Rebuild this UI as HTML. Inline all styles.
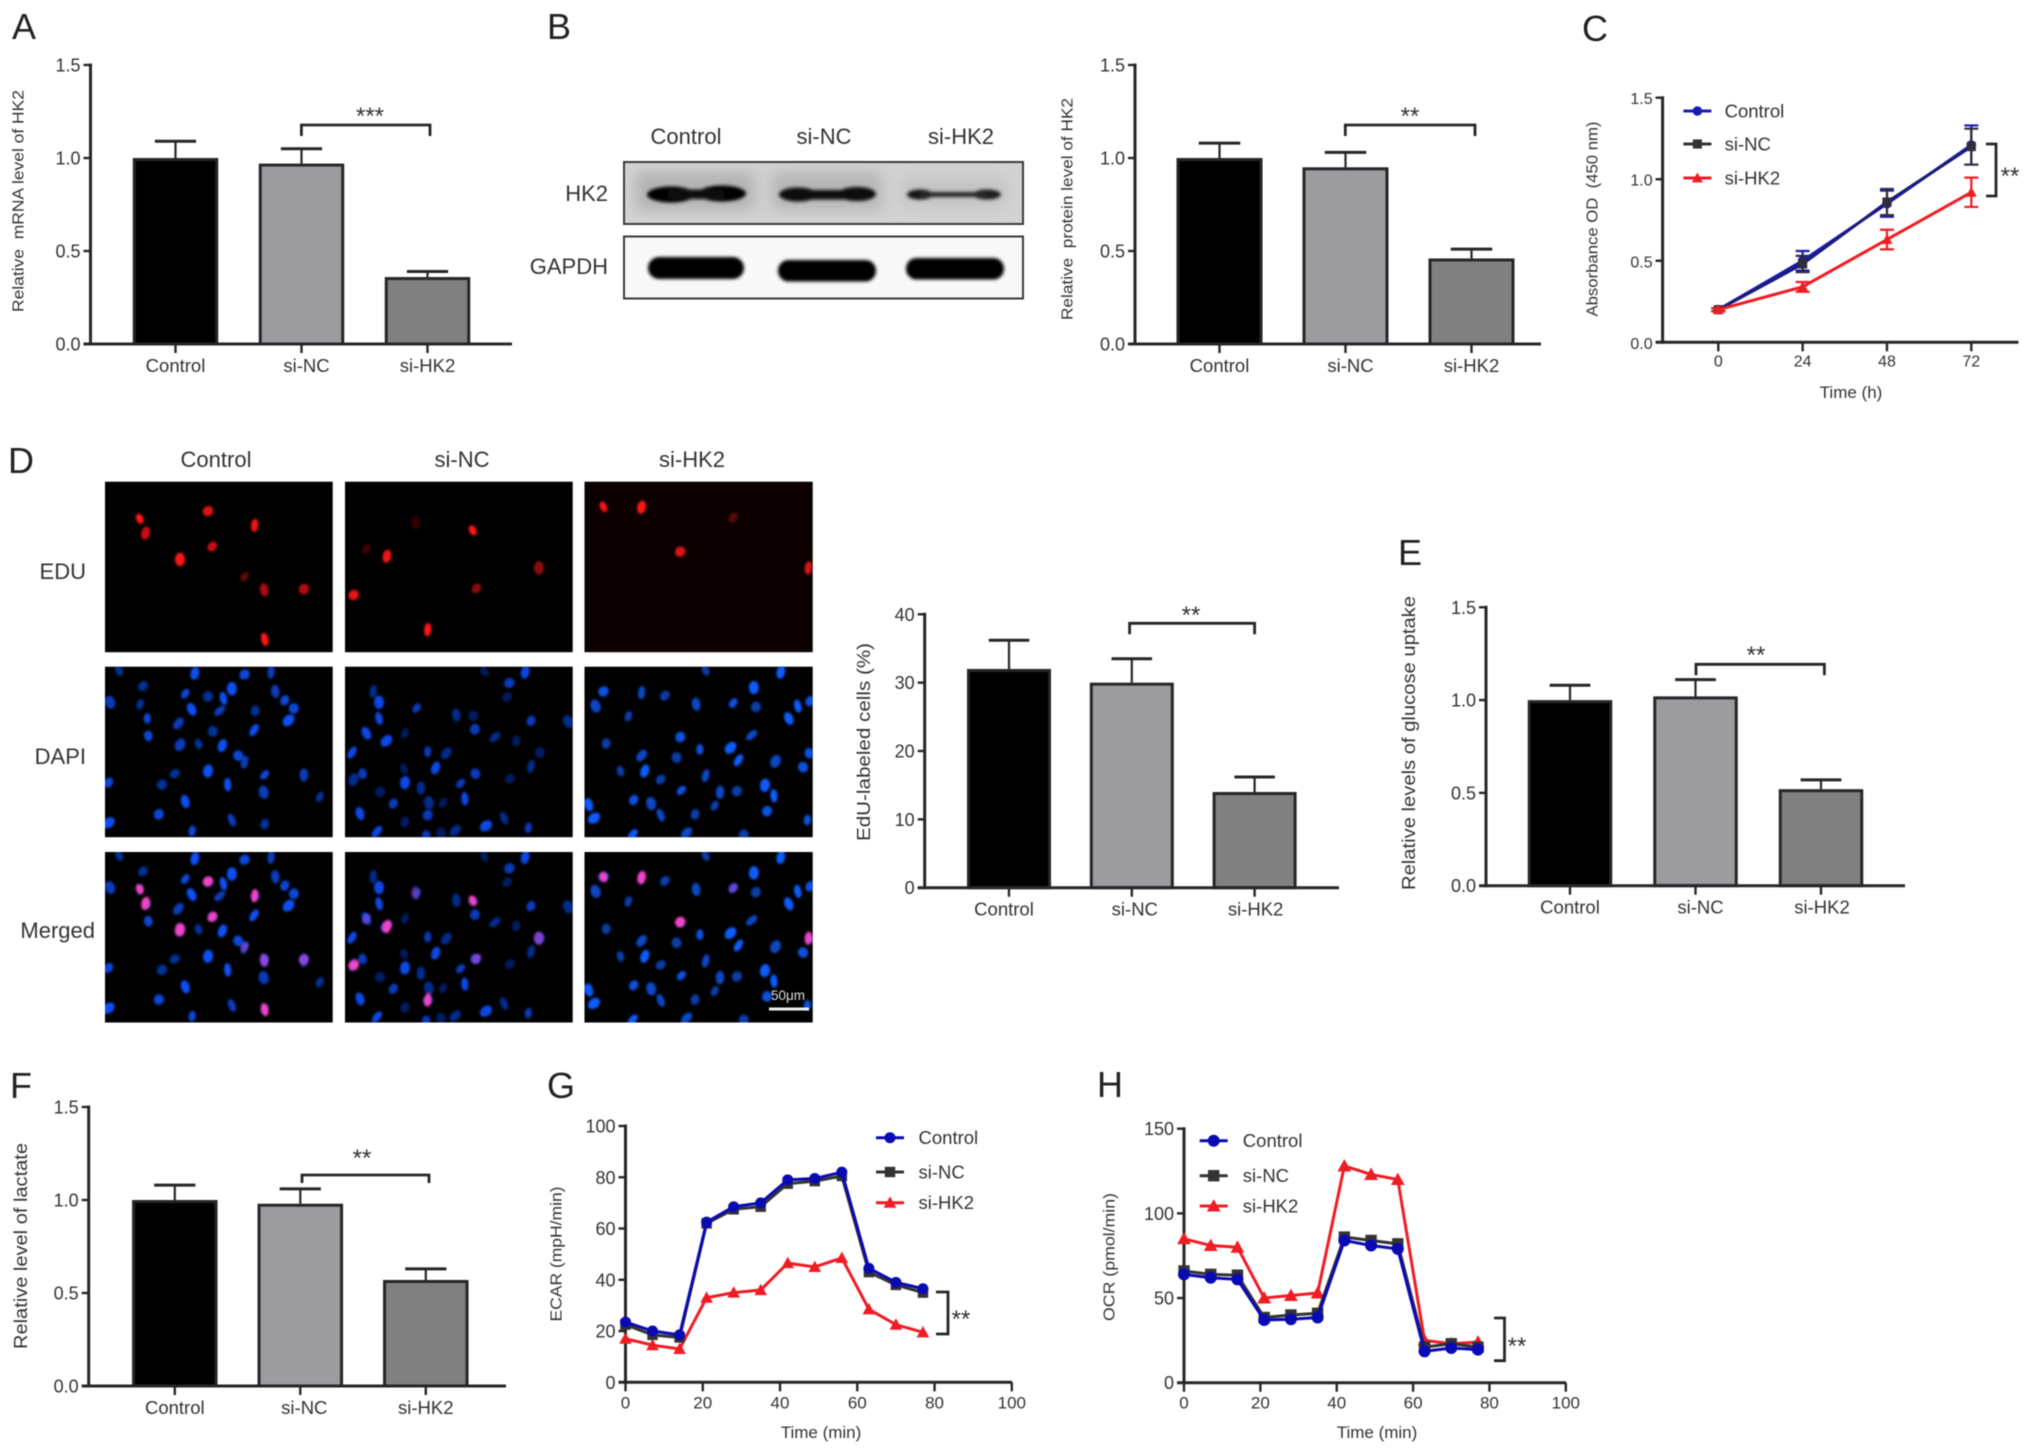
<!DOCTYPE html>
<html lang="en">
<head>
<meta charset="utf-8">
<title>HK2 knockdown figure</title>
<style>
html,body{margin:0;padding:0;background:#fff}
#figure{display:block;filter:blur(.65px)}
text{font-family:"Liberation Sans",Arial,sans-serif;fill:#333;white-space:pre}
.letter{font-size:36px;fill:#222}
.head{font-size:22px;text-anchor:middle;fill:#333}
.side{font-size:22px;text-anchor:end;fill:#333}
</style>
</head>
<body>
<svg id="figure" xmlns="http://www.w3.org/2000/svg" width="2031" height="1455" viewBox="0 0 2031 1455">
<defs>
<filter id="soft" x="-30%" y="-60%" width="160%" height="220%"><feGaussianBlur stdDeviation="1.7"/></filter>
<filter id="softer" x="-10%" y="-20%" width="120%" height="140%"><feGaussianBlur stdDeviation="7"/></filter>
<filter id="cell" x="-40%" y="-40%" width="180%" height="180%"><feGaussianBlur stdDeviation="1.1"/></filter>
<clipPath id="clip-hk2"><rect x="624" y="162" width="399" height="62"/></clipPath>
</defs>
<rect width="2031" height="1455" fill="#fff"/>
<text class="letter" x="12" y="39">A</text>
<text class="letter" x="547" y="39">B</text>
<text class="letter" x="1582" y="41">C</text>
<text class="letter" x="8" y="473">D</text>
<text class="letter" x="1398" y="565">E</text>
<text class="letter" x="10" y="1098">F</text>
<text class="letter" x="547" y="1098">G</text>
<text class="letter" x="1097" y="1097">H</text>

<g>
<text class="head" x="686" y="144">Control</text>
<text class="head" x="824" y="144">si-NC</text>
<text class="head" x="961" y="144">si-HK2</text>
<text class="side" x="608" y="201">HK2</text>
<text class="side" x="608" y="274">GAPDH</text>
<rect x="624" y="162" width="399" height="62" fill="#d2d2d2"/>
<g clip-path="url(#clip-hk2)">
<g filter="url(#softer)">
<rect x="636" y="172" width="118" height="38" fill="#b2b2b2"/><rect x="772" y="172" width="110" height="38" fill="#b6b6b6"/><rect x="902" y="178" width="104" height="28" fill="#c2c2c2"/>
</g>
</g>
<g filter="url(#soft)">
<ellipse cx="671" cy="194.5" rx="24" ry="8" fill="#050505"/>
<ellipse cx="722" cy="193.5" rx="24" ry="8" fill="#050505"/>
<rect x="668" y="189.5" width="56" height="9.5" fill="#111"/>
<ellipse cx="798" cy="194.5" rx="19" ry="7" fill="#080808"/>
<ellipse cx="857" cy="194" rx="19" ry="7" fill="#080808"/>
<rect x="795" y="190" width="64" height="9.5" fill="#0c0c0c"/>
<ellipse cx="920" cy="194.5" rx="13" ry="5" fill="#141414"/>
<ellipse cx="987" cy="194.5" rx="14" ry="5" fill="#1e1e1e"/>
<rect x="920" y="192" width="68" height="5" fill="#262626"/>
</g>
<rect x="624" y="162" width="399" height="62" fill="none" stroke="#3a3a3a" stroke-width="2"/>
<rect x="624" y="236.5" width="399" height="62" fill="#f8f8f8" stroke="#3a3a3a" stroke-width="2"/>
<g filter="url(#soft)">
<rect x="648" y="257" width="96" height="22" rx="11" fill="#000"/>
<rect x="778" y="260" width="98" height="21.5" rx="10.5" fill="#000"/>
<rect x="906" y="258" width="98" height="21.5" rx="10.5" fill="#000"/>
</g>
</g>

<g id="micrographs">
<text class="head" x="216" y="467">Control</text>
<text class="head" x="462" y="467">si-NC</text>
<text class="head" x="692" y="467">si-HK2</text>
<text class="side" x="86" y="579">EDU</text>
<text class="side" x="86" y="764">DAPI</text>
<text class="side" x="95" y="938">Merged</text>
</g>
<g id="charts"></g>
</svg>

<script>
// ---------- chart data ----------
const barCategories = ['Control', 'si-NC', 'si-HK2'];
const ratioTicks = [0, 0.5, 1, 1.5];
const ratioTickLabels = ['0.0', '0.5', '1.0', '1.5'];
const eduTicks = [0, 10, 20, 30, 40];
const eduTickLabels = ['0', '10', '20', '30', '40'];

const mrnaValues = [1.0, 0.97, 0.36];
const mrnaErrors = [0.09, 0.08, 0.03];
const proteinValues = [1.0, 0.95, 0.46];
const proteinErrors = [0.08, 0.08, 0.05];
const eduValues = [32, 30, 14];
const eduErrors = [4.2, 3.5, 2.2];
const glucoseValues = [1.0, 1.02, 0.52];
const glucoseErrors = [0.08, 0.09, 0.05];
const lactateValues = [1.0, 0.98, 0.57];
const lactateErrors = [0.08, 0.08, 0.06];

const cckTimes = [0, 24, 48, 72];
const cckTicks = [0, 0.5, 1, 1.5];
const cckTickLabels = ['0.0', '0.5', '1.0', '1.5'];
const cckControl = [0.2, 0.5, 0.85, 1.21];
const cckControlErr = [0.01, 0.06, 0.08, 0.12];
const cckNC = [0.2, 0.48, 0.86, 1.2];
const cckNCErr = [0.01, 0.05, 0.08, 0.11];
const cckHK2 = [0.2, 0.34, 0.63, 0.92];
const cckHK2Err = [0.01, 0.03, 0.06, 0.09];

const seahorseTimes = [0, 7, 14, 21, 28, 35, 42, 49, 56, 63, 70, 77];
const minuteTicks = [0, 20, 40, 60, 80, 100];
const ecarTicks = [0, 20, 40, 60, 80, 100];
const ecarControl = [23.5, 20, 18.5, 62.5, 68.5, 70, 79, 79.5, 82, 44.5, 39, 36.5];
const ecarNC = [22.5, 18.5, 17.5, 62, 67.5, 68.5, 77.5, 78.5, 80.5, 43, 38, 35];
const ecarHK2 = [17, 14.5, 13, 33, 35, 36, 46.5, 45, 48.5, 28.5, 22.5, 19.5];
const ocrTicks = [0, 50, 100, 150];
const ocrControl = [64, 62, 61, 37, 37.5, 38.5, 84, 81, 79, 18.5, 20.5, 19.5];
const ocrNC = [66, 64, 63.5, 38.5, 40, 41, 86, 84, 82, 21, 23, 21];
const ocrHK2 = [85, 81, 80, 50, 51.5, 53, 128, 123, 120, 25, 23, 24];

// ---------- micrograph texture (not chart data) ----------
const nucleiControl = [[225,618],[368,625],[462,628],[512,622],[270,658],[438,665],[350,678],[520,672],[393,685],[422,690],[538,695],[208,700],[265,705],[362,718],[555,716],[415,722],[482,722],[545,747],[278,742],[337,755],[402,775],[480,772],[280,787],[340,810],[375,808],[420,812],[450,838],[462,855],[330,885],[393,878],[500,888],[574,888],[306,913],[430,913],[205,908],[498,933],[604,945],[350,957],[300,990],[438,1005],[500,1015],[205,1012],[363,1033]];
const nucleiNC = [[915,620],[992,622],[962,650],[705,672],[958,686],[716,700],[787,715],[862,733],[894,735],[716,742],[1003,748],[1073,750],[765,780],[692,780],[897,770],[935,790],[975,800],[730,800],[808,828],[843,832],[1020,830],[665,830],[685,885],[668,900],[763,872],[823,870],[898,885],[1003,866],[963,898],[765,908],[870,910],[795,922],[718,932],[878,950],[743,962],[810,960],[837,960],[680,988],[808,992],[952,1000],[765,1010],[918,1020],[998,1025],[860,1032],[833,1038],[712,1035],[805,1045]];
const nucleiHK2 = [[1333,618],[1475,622],[1140,672],[1212,675],[1256,683],[1424,662],[1385,702],[1315,705],[1428,712],[1507,710],[1530,697],[1125,710],[1187,736],[1490,742],[1285,790],[1420,785],[1145,807],[1380,818],[1322,822],[1212,838],[1278,843],[1395,850],[1528,832],[1465,853],[1172,878],[1218,878],[1517,868],[1333,890],[1248,900],[1445,915],[1287,928],[1360,933],[1392,930],[1462,942],[1197,953],[1230,962],[1350,968],[1112,965],[1449,982],[1248,992],[1313,990],[1122,1000],[1525,1005],[1297,1038],[1405,1043],[1195,1043]];
const redControl = [[264,228,1],[275,265,.8],[393,208,.85],[481,245,.95],[401,300,.8],[340,333,1],[462,378,.35],[499,412,.65],[574,410,.7],[500,540,1]];
const redNC = [[893,258,1],[731,325,.95],[668,425,.9],[808,515,1],[900,408,.55],[1018,355,.55],[692,305,.25],[785,238,.2]];
const redHK2 = [[1140,197,.95],[1212,198,1],[1285,313,.85],[1527,355,.85],[1385,225,.3]];

const NS = 'http://www.w3.org/2000/svg';
const charts = document.getElementById('charts');
const micro = document.getElementById('micrographs');
const INK = '#262626';

function add(parent, tag, attrs, txt) {
  const e = document.createElementNS(NS, tag);
  for (const k in attrs) e.setAttribute(k, attrs[k]);
  if (txt !== undefined) e.textContent = txt;
  parent.appendChild(e);
  return e;
}

function drawYAxis(g, c, yOf, ticks, labels) {
  const axis = add(g, 'line', {x1: c.x0, x2: c.x0, y1: c.yTop - 1.5, y2: c.yBot + 1.5, stroke: INK, 'stroke-width': 3});
  
  
  ticks.forEach((t, i) => {
    const tick = add(g, 'line', {x1: c.x0 - 7, x2: c.x0, y1: yOf(t), y2: yOf(t), stroke: INK, 'stroke-width': 2.4});
    
    
    const lab = add(g, 'text', {x: c.x0 - 10, y: yOf(t) + 6.5, 'text-anchor': 'end', 'font-size': c.tickFont || 18}, labels[i]);
    
    
  });
  const title = add(g, 'text', {x: c.titleX, y: c.titleY, transform: 'rotate(-90 ' + c.titleX + ' ' + c.titleY + ')', 'text-anchor': 'middle', 'dominant-baseline': 'central', 'font-size': c.titleFont || 16.5, textLength: c.titleLen, lengthAdjust: 'spacingAndGlyphs', fill: '#444'}, c.title);
  
  
}

function drawBracket(g, b) {
  const d = b.up === undefined
    ? 'M' + b.x1 + ' ' + (b.y + b.drop) + 'V' + b.y + 'H' + b.x2 + 'V' + (b.y + b.drop)
    : 'M' + b.x1 + ' ' + b.up + 'H' + b.x2 + 'V' + b.y + 'H' + b.x1;
  const p = add(g, 'path', {d: d, fill: 'none', stroke: INK, 'stroke-width': 2.8});
  
  
  const s = add(g, 'text', {x: b.lx, y: b.ly + 14, 'text-anchor': 'middle', 'font-size': 24, fill: '#222'}, b.text);
  
  
}

function barChart(c) {
  const g = add(charts, 'g', {});
  
  
  const yOf = v => c.yBot - v / c.yMax * (c.yBot - c.yTop);
  const xOf = i => c.first + i * c.step;
  const fills = ['#000000', '#9b9ba0', '#808080'];
  c.values.forEach((v, i) => {
    const cx = xOf(i);
    const top = yOf(v + c.errors[i]);
    const stem = add(g, 'line', {x1: cx, x2: cx, y1: top, y2: yOf(v), stroke: INK, 'stroke-width': 2.2});
    
    
    const cap = add(g, 'line', {x1: cx - c.barW / 4, x2: cx + c.barW / 4, y1: top, y2: top, stroke: INK, 'stroke-width': 3});
    
    
    const bar = add(g, 'rect', {x: cx - c.barW / 2, y: yOf(v) + 1.5, width: c.barW, height: c.yBot - yOf(v) - 1.5, fill: fills[i], stroke: INK, 'stroke-width': 3});
    
    
    const tick = add(g, 'line', {x1: cx, x2: cx, y1: c.yBot, y2: c.yBot + 9, stroke: INK, 'stroke-width': 2.4});
    
    
    const lab = add(g, 'text', {x: cx + c.labelShift[i], y: c.yBot + 28, 'text-anchor': 'middle', 'font-size': 18.5}, barCategories[i]);
    
    
  });
  const xa = add(g, 'line', {x1: c.x0 - 7, x2: c.xEnd, y1: c.yBot, y2: c.yBot, stroke: INK, 'stroke-width': 3});
  
  
  drawYAxis(g, c, yOf, c.ticks, c.tickLabels);
  drawBracket(g, c.bracket);
}

function marker(g, kind, x, y, r, color) {
  let m;
  if (kind === 'circle') {
    m = add(g, 'circle', {cx: x, cy: y, r: r, fill: color});
  } else if (kind === 'square') {
    m = add(g, 'rect', {x: x - r * .95, y: y - r * .95, width: r * 1.9, height: r * 1.9, fill: color});
  } else {
    const h = r * 1.15;
    m = add(g, 'path', {d: 'M' + x + ' ' + (y - h) + 'L' + (x + h) + ' ' + (y + h * .8) + 'L' + (x - h) + ' ' + (y + h * .8) + 'Z', fill: color});
  }
  
  
}

function lineChart(c) {
  const g = add(charts, 'g', {});
  
  
  const yOf = v => c.yBot - v / c.yMax * (c.yBot - c.yTop);
  const xOf = t => c.xOrigin + t * c.xUnit;
  c.xTicks.forEach(t => {
    const tick = add(g, 'line', {x1: xOf(t), x2: xOf(t), y1: c.yBot, y2: c.yBot + 9, stroke: INK, 'stroke-width': 2.4});
    
    
    const lab = add(g, 'text', {x: xOf(t), y: c.yBot + (c.tickDy || 26), 'text-anchor': 'middle', 'font-size': c.tickFont || 17}, String(t));
    
    
  });
  const xa = add(g, 'line', {x1: c.x0 - 7, x2: c.xEnd, y1: c.yBot, y2: c.yBot, stroke: INK, 'stroke-width': 3});
  
  
  const xt = add(g, 'text', {x: c.xTitleX, y: c.xTitleY + 5, 'text-anchor': 'middle', 'font-size': 17}, c.xTitle);
  
  
  drawYAxis(g, c, yOf, c.ticks, c.tickLabels);

  c.series.forEach(s => {
    const sg = add(g, 'g', {});
    
    
    const pts = s.values.map((v, i) => xOf(c.times[i]) + ',' + yOf(v)).join(' ');
    const line = add(sg, 'polyline', {points: pts, fill: 'none', stroke: s.lineColor || s.color, 'stroke-width': c.lineW});
    
    
    s.values.forEach((v, i) => {
      const x = xOf(c.times[i]);
      if (s.errors) {
        const lo = yOf(v - s.errors[i]);
        const hi = yOf(v + s.errors[i]);
        const eb = add(sg, 'path', {d: 'M' + (x - 7) + ' ' + hi + 'H' + (x + 7) + 'M' + x + ' ' + hi + 'V' + lo + 'M' + (x - 7) + ' ' + lo + 'H' + (x + 7), fill: 'none', stroke: s.color, 'stroke-width': 2.2});
        
        
      }
      marker(sg, s.kind, x, yOf(v), c.markerR, s.color);
    });
  });

  c.legend.forEach(item => {
    const lg = add(g, 'g', {});
    
    
    const ln = add(lg, 'line', {x1: c.legendX - 14, x2: c.legendX + 14, y1: item.y, y2: item.y, stroke: item.color, 'stroke-width': 3});
    
    
    marker(lg, item.kind, c.legendX, item.y, c.markerR, item.color);
    const t = add(lg, 'text', {x: c.legendTextX, y: item.y + 6.5, 'font-size': 18.5}, item.label);
    
    
  });
  drawBracket(g, c.bracket);
}

barChart({name: 'chart-a-hk2-mrna', x0: 90.5, xEnd: 512, yTop: 65, yBot: 344, yMax: 1.5, first: 175.5, step: 126, barW: 82.5,
  values: mrnaValues, errors: mrnaErrors, ticks: ratioTicks, tickLabels: ratioTickLabels, labelShift: [0, 5, 0],
  title: 'Relative  mRNA level of HK2', titleX: 19, titleY: 201, titleLen: 222, titleFont: 16,
  bracket: {x1: 301.4, x2: 430, y: 125, drop: 11, lx: 370, ly: 110, text: '***'}});

barChart({name: 'chart-b-hk2-protein', x0: 1135, xEnd: 1541, yTop: 65, yBot: 344, yMax: 1.5, first: 1219.5, step: 126, barW: 83,
  values: proteinValues, errors: proteinErrors, ticks: ratioTicks, tickLabels: ratioTickLabels, labelShift: [0, 5, 0],
  title: 'Relative  protein level of HK2', titleX: 1068, titleY: 209, titleLen: 222, titleFont: 16,
  bracket: {x1: 1345.3, x2: 1475, y: 125, drop: 11, lx: 1410, ly: 110, text: '**'}});

barChart({name: 'chart-d-edu-labeled', x0: 924.7, xEnd: 1339, yTop: 614.3, yBot: 887.7, yMax: 40, first: 1009, step: 122.8, barW: 81,
  values: eduValues, errors: eduErrors, ticks: eduTicks, tickLabels: eduTickLabels, labelShift: [-5, 3, 1],
  title: 'EdU-labeled cells (%)', titleX: 864, titleY: 742, titleLen: 198, titleFont: 18,
  bracket: {x1: 1129.6, x2: 1254.6, y: 623.3, drop: 11, lx: 1191, ly: 609, text: '**'}});

barChart({name: 'chart-e-glucose-uptake', x0: 1486, xEnd: 1905, yTop: 607.3, yBot: 885.7, yMax: 1.5, first: 1570, step: 125.5, barW: 81.5,
  values: glucoseValues, errors: glucoseErrors, ticks: ratioTicks, tickLabels: ratioTickLabels, labelShift: [0, 5, 1],
  title: 'Relative levels of glucose uptake', titleX: 1409, titleY: 743, titleLen: 294, titleFont: 18,
  bracket: {x1: 1696, x2: 1824.4, y: 664.3, drop: 11, lx: 1756, ly: 649, text: '**'}});

barChart({name: 'chart-f-lactate', x0: 88.7, xEnd: 506, yTop: 1107, yBot: 1386, yMax: 1.5, first: 174.8, step: 125.5, barW: 82.5,
  values: lactateValues, errors: lactateErrors, ticks: ratioTicks, tickLabels: ratioTickLabels, labelShift: [0, 4, 0],
  title: 'Relative level of lactate', titleX: 21, titleY: 1246, titleLen: 206, titleFont: 18,
  bracket: {x1: 302, x2: 429, y: 1175, drop: 8, lx: 362, ly: 1152, text: '**'}});

lineChart({name: 'chart-c-absorbance', x0: 1662.6, xEnd: 2018.5, xOrigin: 1718.3, xUnit: 3.514, yTop: 97.7, yBot: 342.3, yMax: 1.5,
  times: cckTimes, xTicks: cckTimes, ticks: cckTicks, tickLabels: cckTickLabels, lineW: 3, markerR: 4.8, tickFont: 16, tickDy: 24,
  title: 'Absorbance OD  (450 nm)', titleX: 1593, titleY: 219, titleLen: 195, titleFont: 16,
  xTitle: 'Time (h)', xTitleX: 1851, xTitleY: 393,
  series: [
    {label: 'Control', values: cckControl, errors: cckControlErr, color: '#1a1ab4', kind: 'circle'},
    {label: 'si-NC', values: cckNC, errors: cckNCErr, color: '#2f2f3c', lineColor: '#1c1c78', kind: 'square'},
    {label: 'si-HK2', values: cckHK2, errors: cckHK2Err, color: '#f01c24', kind: 'triangle'}
  ],
  legendX: 1697.4, legendTextX: 1724.6,
  legend: [
    {label: 'Control', y: 111, color: '#1a1ab4', kind: 'circle'},
    {label: 'si-NC', y: 144, color: '#333', kind: 'square'},
    {label: 'si-HK2', y: 178, color: '#f01c24', kind: 'triangle'}
  ],
  bracket: {x1: 1986, x2: 1996, y: 196, up: 144, lx: 2010, ly: 170, text: '**'}});

lineChart({name: 'chart-g-ecar', x0: 625.5, xEnd: 1012, xOrigin: 625.5, xUnit: 3.863, yTop: 1126, yBot: 1382.3, yMax: 100,
  times: seahorseTimes, xTicks: minuteTicks, ticks: ecarTicks, tickLabels: ecarTicks.map(String), lineW: 3, markerR: 5.5,
  title: 'ECAR (mpH/min)', titleX: 557, titleY: 1254, titleLen: 135, titleFont: 16,
  xTitle: 'Time (min)', xTitleX: 821, xTitleY: 1433,
  series: [
    {label: 'si-HK2', values: ecarHK2, color: '#f01c24', kind: 'triangle'},
    {label: 'si-NC', values: ecarNC, color: '#333', kind: 'square'},
    {label: 'Control', values: ecarControl, color: '#0a0ab4', kind: 'circle'}
  ],
  legendX: 890, legendTextX: 918.5,
  legend: [
    {label: 'Control', y: 1137.7, color: '#0a0ab4', kind: 'circle'},
    {label: 'si-NC', y: 1172, color: '#333', kind: 'square'},
    {label: 'si-HK2', y: 1202.7, color: '#f01c24', kind: 'triangle'}
  ],
  bracket: {x1: 936, x2: 948, y: 1334, up: 1292, lx: 961, ly: 1313, text: '**'}});

lineChart({name: 'chart-h-ocr', x0: 1184, xEnd: 1566, xOrigin: 1184, xUnit: 3.818, yTop: 1128.7, yBot: 1382.7, yMax: 150,
  times: seahorseTimes, xTicks: minuteTicks, ticks: ocrTicks, tickLabels: ocrTicks.map(String), lineW: 3, markerR: 6,
  title: 'OCR (pmol/min)', titleX: 1110, titleY: 1257, titleLen: 128, titleFont: 16,
  xTitle: 'Time (min)', xTitleX: 1377, xTitleY: 1433,
  series: [
    {label: 'si-HK2', values: ocrHK2, color: '#f01c24', kind: 'triangle'},
    {label: 'si-NC', values: ocrNC, color: '#333', kind: 'square'},
    {label: 'Control', values: ocrControl, color: '#0a0ab4', kind: 'circle'}
  ],
  legendX: 1213.7, legendTextX: 1242.8,
  legend: [
    {label: 'Control', y: 1140.7, color: '#0a0ab4', kind: 'circle'},
    {label: 'si-NC', y: 1175.7, color: '#333', kind: 'square'},
    {label: 'si-HK2', y: 1206, color: '#f01c24', kind: 'triangle'}
  ],
  bracket: {x1: 1494, x2: 1504.5, y: 1360.7, up: 1318, lx: 1517, ly: 1340, text: '**'}});

// ---------- micrographs ----------
const SX = 1.889;
const SCALE_Y = 0.3864;
const ROW_H = 170.5;
const EDU_TOP = 481.7, DAPI_TOP = 666.7, MERGED_TOP = 852;
const SRC_EDU_TOP = 132, SRC_DAPI_TOP = 608;
function nucleus(g, zx, py, i, fill, op, name) {
  const rx = 3.6 + (i % 3) * .7;
  const ry = 5.4 + (i % 2) * 1.3;
  const px = zx / SX;
  const n = add(g, 'ellipse', {cx: px, cy: py, rx: rx, ry: ry, fill: fill, opacity: op, transform: 'rotate(' + ((i * 37) % 80 - 25) + ' ' + px + ' ' + py + ')'});
  
  
}
const columns = [
  {key: 'control', x: 105, w: 227.7, blue: nucleiControl, red: redControl, fill: '#0a50f4', haze: '#000', dim: .62},
  {key: 'si-nc', x: 345, w: 227.7, blue: nucleiNC, red: redNC, fill: '#0a46e4', haze: '#000', dim: .42},
  {key: 'si-hk2', x: 584.5, w: 228.2, blue: nucleiHK2, red: redHK2, fill: '#0a5cfc', haze: '#0c0001', dim: .66}
];
columns.forEach((col, ci) => {
  const defs = document.querySelector('defs');
  const clip1 = add(defs, 'clipPath', {id: 'c-e-' + ci});
  add(clip1, 'rect', {x: col.x, y: EDU_TOP, width: col.w, height: ROW_H});
  const clip2 = add(defs, 'clipPath', {id: 'c-d-' + ci});
  add(clip2, 'rect', {x: col.x, y: DAPI_TOP, width: col.w, height: ROW_H});
  const clip3 = add(defs, 'clipPath', {id: 'c-m-' + ci});
  add(clip3, 'rect', {x: col.x, y: MERGED_TOP, width: col.w, height: ROW_H});

  const eBg = add(micro, 'rect', {x: col.x, y: EDU_TOP, width: col.w, height: ROW_H, fill: col.haze});
  
  
  const dBg = add(micro, 'rect', {x: col.x, y: DAPI_TOP, width: col.w, height: ROW_H, fill: '#000'});
  
  
  const mBg = add(micro, 'rect', {x: col.x, y: MERGED_TOP, width: col.w, height: ROW_H, fill: '#000'});
  
  

  const egc = add(micro, 'g', {'clip-path': 'url(#c-e-' + ci + ')'});
  
  
  const eg = add(egc, 'g', {filter: 'url(#cell)'});
  
  
  const dgc = add(micro, 'g', {'clip-path': 'url(#c-d-' + ci + ')'});
  
  
  const dg = add(dgc, 'g', {filter: 'url(#cell)'});
  
  
  const mgc = add(micro, 'g', {'clip-path': 'url(#c-m-' + ci + ')'});
  
  
  const mg = add(mgc, 'g', {filter: 'url(#cell)'});
  
  

  col.blue.forEach((p, i) => {
    const op = col.dim + ((i * 7) % 4) * (1 - col.dim) / 3;
    const off = (p[1] - SRC_DAPI_TOP) * SCALE_Y;
    nucleus(dg, p[0], DAPI_TOP + off, i, col.fill, op, 'dapi-nucleus');
    nucleus(mg, p[0], MERGED_TOP + off, i, col.fill, op, 'merged-nucleus');
  });
  col.red.forEach((p, i) => {
    const off = (p[1] - SRC_EDU_TOP) * SCALE_Y;
    nucleus(eg, p[0], EDU_TOP + off, i, '#ff1418', p[2], 'edu-nucleus');
    nucleus(mg, p[0], MERGED_TOP + off, i, p[2] > .75 ? '#f044c8' : '#8a48e0', Math.min(1, p[2] + .35), 'merged-edu-nucleus');
  });
});
const sbLabel = add(micro, 'text', {x: 788, y: 1000, 'text-anchor': 'middle', 'font-size': 13.5, style: 'fill:#ddd'}, '50μm');


const sbBar = add(micro, 'rect', {x: 769, y: 1007.5, width: 40, height: 3, fill: '#eee'});


</script>
</body>
</html>
